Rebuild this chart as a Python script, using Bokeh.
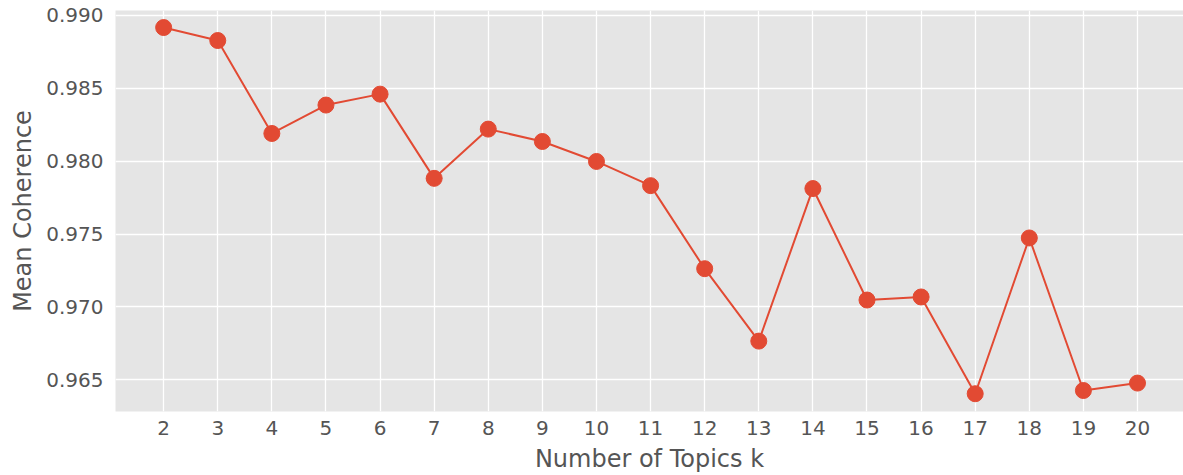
from bokeh.plotting import figure
from bokeh.models import FixedTicker, Range1d, CustomJSTickFormatter
from bokeh.embed import file_html
from bokeh.resources import INLINE

topics_k = list(range(2, 21))
mean_coherence = [0.98917, 0.98828, 0.98190, 0.98385, 0.98460, 0.97882, 0.98220,
                  0.98135, 0.97998, 0.97832, 0.97262, 0.96765, 0.97812, 0.97047,
                  0.97068, 0.96404, 0.97473, 0.96426, 0.96477]
y_ticks = [0.965, 0.970, 0.975, 0.980, 0.985, 0.990]

p = figure(width=1183, height=475, output_backend="svg", toolbar_location=None,
           x_range=Range1d(1.11, 20.85), y_range=Range1d(0.96282, 0.99034),
           min_border_left=115, min_border_right=0, min_border_top=10, min_border_bottom=10)
p.background_fill_color = "#E5E5E5"
p.border_fill_color = "white"
p.outline_line_color = None

p.line(topics_k, mean_coherence, line_color="#E24A33", line_width=2)
p.scatter(topics_k, mean_coherence, size=16, fill_color="#E24A33", line_color="#E24A33")

p.xaxis.ticker = FixedTicker(ticks=topics_k)
p.yaxis.ticker = FixedTicker(ticks=y_ticks)
p.yaxis.formatter = CustomJSTickFormatter(code="return tick.toFixed(3);")

for ax in (p.xaxis, p.yaxis):
    ax.axis_line_color = None
    ax.major_tick_line_color = None
    ax.minor_tick_line_color = None
    ax.major_tick_out = 0
    ax.major_tick_in = 0
    ax.minor_tick_out = 0
    ax.minor_tick_in = 0
    ax.major_label_text_font = "DejaVu Sans"
    ax.major_label_text_font_size = "20px"
    ax.major_label_text_color = "#555555"
    ax.axis_label_text_font = "DejaVu Sans"
    ax.axis_label_text_font_size = "24px"
    ax.axis_label_text_color = "#555555"
    ax.axis_label_text_font_style = "normal"

p.xaxis.axis_label = "Number of Topics k"
p.yaxis.axis_label = "Mean Coherence"
p.xaxis.major_label_standoff = 9
p.yaxis.major_label_standoff = 12
p.xaxis.axis_label_standoff = 7
p.yaxis.axis_label_standoff = 6

p.xgrid.grid_line_color = "white"
p.ygrid.grid_line_color = "white"
p.xgrid.grid_line_width = 1.3
p.ygrid.grid_line_width = 1.3

open("out.html", "w").write(file_html(p, INLINE))
